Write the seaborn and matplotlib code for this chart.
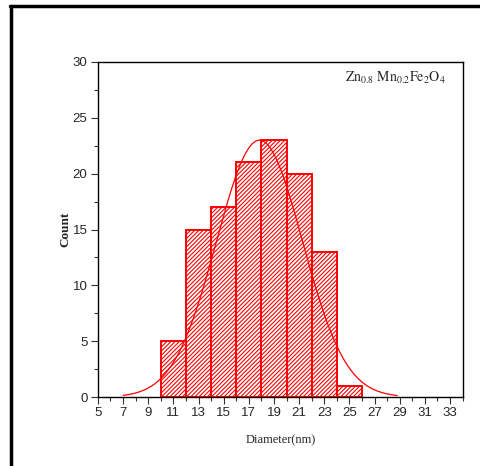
import numpy as np
import pandas as pd
import matplotlib
matplotlib.use("Agg")
import matplotlib.pyplot as plt
from matplotlib.ticker import FixedLocator, MultipleLocator
from matplotlib.lines import Line2D
import seaborn as sns

# histogram data (bin centres, counts)
diameter = [11, 13, 15, 17, 19, 21, 23, 25]
counts = [5, 15, 17, 21, 23, 20, 13, 1]
bin_edges = [10, 12, 14, 16, 18, 20, 22, 24, 26]

# gaussian fit parameters
fit_amp = 23.0
fit_mean = 17.85
fit_sigma = 3.42
fit_range = (7.0, 28.8)

x_ticks = list(range(5, 34, 2))

sns.set_style("ticks")
plt.rcParams["font.family"] = ["Liberation Sans", "DejaVu Sans"]
plt.rcParams["mathtext.fontset"] = "stix"
plt.rcParams["hatch.linewidth"] = 0.8
plt.rcParams["hatch.color"] = "red"

df = pd.DataFrame({"diameter": diameter, "count": counts})

fig = plt.figure(figsize=(4.8, 4.66), dpi=100)
ax = fig.add_axes([0.204, 0.148, 0.761, 0.719])

sns.histplot(data=df, x="diameter", weights="count", bins=bin_edges,
             fill=True, facecolor="white", edgecolor="red", linewidth=1.4,
             hatch="////////", alpha=1, ax=ax)

xs = np.linspace(fit_range[0], fit_range[1], 300)
ys = fit_amp * np.exp(-0.5 * ((xs - fit_mean) / fit_sigma) ** 2)
sns.lineplot(x=xs, y=ys, color="red", linewidth=0.9, ax=ax)

ax.set_xlim(5, 34.05)
ax.set_ylim(0, 30)
ax.xaxis.set_major_locator(FixedLocator(x_ticks))
ax.xaxis.set_minor_locator(FixedLocator([t + 1 for t in x_ticks]))
ax.yaxis.set_major_locator(MultipleLocator(5))
ax.yaxis.set_minor_locator(MultipleLocator(2.5))
ax.tick_params(which="major", length=5, width=0.8, labelsize=9.5, color="#333333", pad=2.5)
ax.tick_params(which="minor", length=3, width=0.8, color="#333333")
for s in ax.spines.values():
    s.set_linewidth(1.0)
    s.set_color("black")

ax.set_xlabel("Diameter(nm)", fontfamily="Liberation Serif", fontsize=9, labelpad=11)
ax.set_ylabel("Count", fontfamily="Liberation Serif", fontsize=9.5, fontweight="bold", labelpad=1)

ax.text(0.953, 0.952, r"$\mathrm{Zn_{0.8}\ Mn_{0.2}Fe_2O_4}$", transform=ax.transAxes,
        ha="right", va="center", fontsize=10)

# outer frame (left and top edges visible)
fig.add_artist(Line2D([11 / 480, 11 / 480], [0, 1 - 6 / 466], color="black", linewidth=2.5))
fig.add_artist(Line2D([10 / 480, 1], [1 - 6 / 466, 1 - 6 / 466], color="black", linewidth=2.5))

fig.savefig("out.png", dpi=100)
